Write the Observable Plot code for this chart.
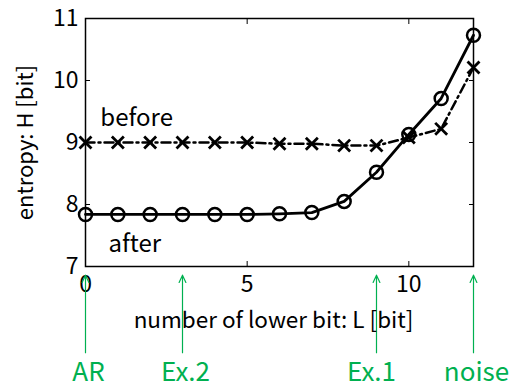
<!DOCTYPE html>
<html><head><meta charset="utf-8">
<script src="https://cdn.jsdelivr.net/npm/d3@7"></script>
<script src="https://cdn.jsdelivr.net/npm/@observablehq/plot@0.6"></script>
<style>body{margin:0;background:#fff}</style>
</head><body><div id="chart"></div>
<script>
const L = [0,1,2,3,4,5,6,7,8,9,10,11,12];
const afterH = [7.84,7.84,7.84,7.84,7.84,7.84,7.85,7.87,8.05,8.52,9.13,9.71,10.73];
const beforeH = [9.0,9.0,9.0,9.0,9.0,9.0,8.98,8.98,8.95,8.95,9.08,9.22,10.21];
const xTicks = [0,5,10];
const yTicks = [7,8,9,10,11];
const markL = [0,3,9,12];
const markLabels = ["AR","Ex.2","Ex.1","noise"];

const after = L.map((l,i)=>({L:l,H:afterH[i]}));
const before = L.map((l,i)=>({L:l,H:beforeH[i]}));
const marks = markL.map((l,i)=>({L:l,label:markLabels[i]}));
const FONT = "Noto Sans CJK JP, Noto Sans, sans-serif";
const green = "#00b050";
const labelDx = [3,3,-5,3];
const fmt = d3.format("d");

const chart = Plot.plot({
  width: 512, height: 387,
  marginLeft: 85, marginRight: 39, marginTop: 18, marginBottom: 121,
  style: {fontFamily: FONT, background: "#fff", color: "#000"},
  x: {domain: [0,12]},
  y: {domain: [7,11]},
  marks: [
    Plot.frame({stroke: "#000", strokeWidth: 1.5}),
    Plot.axisX(xTicks, {anchor: "bottom", tickSize: -5, tickPadding: 14, fontSize: 23, tickFormat: fmt, label: null}),
    Plot.axisX(xTicks, {anchor: "top", tickSize: -5, tickFormat: () => "", label: null}),
    Plot.axisY(yTicks, {anchor: "left", tickSize: -5, tickPadding: 12, fontSize: 23, tickFormat: fmt, label: null}),
    Plot.axisY(yTicks, {anchor: "right", tickSize: -5, tickFormat: () => "", label: null}),
    Plot.line(before, {x: "L", y: "H", stroke: "#000", strokeWidth: 2.5, strokeDasharray: "9,4,2,4"}),
    Plot.dot(before, {x: "L", y: "H", symbol: "times", r: 5.5, stroke: "#000", strokeWidth: 2.8}),
    Plot.line(after, {x: "L", y: "H", stroke: "#000", strokeWidth: 2.8}),
    Plot.dot(after, {x: "L", y: "H", r: 6.5, stroke: "#000", strokeWidth: 2.5, fill: "none"}),
    Plot.text(["before"], {x: 0.46, y: 9.27, text: d => d, textAnchor: "start", lineAnchor: "bottom", fontSize: 24, fill: "#000"}),
    Plot.text(["after"], {x: 0.71, y: 7.23, text: d => d, textAnchor: "start", lineAnchor: "bottom", fontSize: 24, fill: "#000"}),
    Plot.arrow(marks, {x: "L", y1: 5.61, y2: 6.86, stroke: green, strokeWidth: 1.2, headLength: 10, headAngle: 50, clip: false}),
    ...marks.map((m,i) => Plot.text([m], {x: "L", y: 5.29, text: "label", fill: green, fontSize: 26, dx: labelDx[i]})),
    Plot.text(["number of lower bit: L [bit]"], {frameAnchor: "bottom", dy: 61, dx: -6, text: d => d, fontSize: 22.5, fill: "#000"}),
    Plot.text(["entropy: H [bit]"], {frameAnchor: "left", textAnchor: "middle", dx: -60, rotate: -90, text: d => d, fontSize: 22, fill: "#000"})
  ]
});
document.getElementById("chart").append(chart);
</script></body></html>
